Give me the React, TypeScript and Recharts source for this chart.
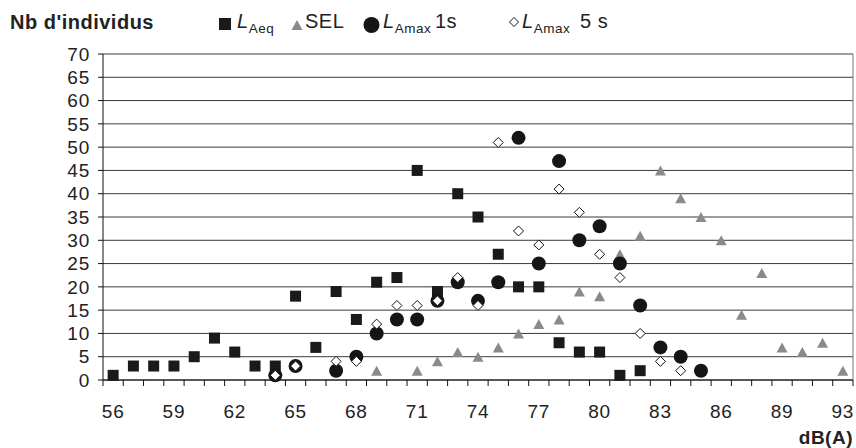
import { CartesianGrid, ComposedChart, Label, Line, XAxis, YAxis } from 'recharts';

const _ = null;

// dB(A) classes on the category axis (91 has no class in the source chart)
const dbLevels = [
  '56', '57', '58', '59', '60', '61', '62', '63', '64', '65', '66', '67', '68',
  '69', '70', '71', '72', '73', '74', '75', '76', '77', '78', '79', '80', '81',
  '82', '83', '84', '85', '86', '87', '88', '89', '90', '92', '93',
];

const laeq = [
  1, 3, 3, 3, 5, 9, 6, 3, 3, 18, 7, 19, 13,
  21, 22, 45, 19, 40, 35, 27, 20, 20, 8, 6, 6, 1,
  2, _, _, _, _, _, _, _, _, _, _,
];
const sel = [
  _, _, _, _, _, _, _, _, _, _, _, _, _,
  2, _, 2, 4, 6, 5, 7, 10, 12, 13, 19, 18, 27,
  31, 45, 39, 35, 30, 14, 23, 7, 6, 8, 2,
];
const lamax1s = [
  _, _, _, _, _, _, _, _, 1, 3, _, 2, 5,
  10, 13, 13, 17, 21, 17, 21, 52, 25, 47, 30, 33, 25,
  16, 7, 5, 2, _, _, _, _, _, _, _,
];
const lamax5s = [
  _, _, _, _, _, _, _, _, 1, 3, _, 4, 4,
  12, 16, 16, 17, 22, 16, 51, 32, 29, 41, 36, 27, 22,
  10, 4, 2, _, _, _, _, _, _, _, _,
];

const yTicks = [0, 5, 10, 15, 20, 25, 30, 35, 40, 45, 50, 55, 60, 65, 70];

const rows = dbLevels.map((db, i) => ({
  db,
  laeq: laeq[i],
  sel: sel[i],
  lamax1: lamax1s[i],
  lamax5: lamax5s[i],
}));

const W = 856;
const H = 448;
const LEFT = 103;
const RIGHT = 3;
const FONT = '"Liberation Sans", Arial, Helvetica, sans-serif';
const halfBand = (W - LEFT - RIGHT) / dbLevels.length / 2;

type DotProps = { cx?: number; cy?: number; value?: number | null; index?: number };

const empty = (p: DotProps) => p.cx == null || p.cy == null || p.value == null;

const squareDot = (p: DotProps) =>
  empty(p) ? <g key={`sq${p.index}`} /> : (
    <rect key={`sq${p.index}`} x={p.cx! - 5.5} y={p.cy! - 5.5} width={11} height={11} fill="#1a1a1a" />
  );

const triangleDot = (p: DotProps) =>
  empty(p) ? <g key={`tr${p.index}`} /> : (
    <polygon
      key={`tr${p.index}`}
      points={`${p.cx! - 5.5},${p.cy! + 5} ${p.cx! + 5.5},${p.cy! + 5} ${p.cx!},${p.cy! - 5}`}
      fill="#8a8a8a"
    />
  );

const circleDot = (p: DotProps) =>
  empty(p) ? <g key={`ci${p.index}`} /> : (
    <circle key={`ci${p.index}`} cx={p.cx} cy={p.cy} r={7} fill="#151515" />
  );

const diamondDot = (p: DotProps) =>
  empty(p) ? <g key={`di${p.index}`} /> : (
    <polygon
      key={`di${p.index}`}
      points={`${p.cx!},${p.cy! - 5} ${p.cx! + 5},${p.cy!} ${p.cx!},${p.cy! + 5} ${p.cx! - 5},${p.cy!}`}
      fill="#fff"
      stroke="#111"
      strokeWidth={1}
    />
  );

function XTick(props: any) {
  const { x, y, payload } = props;
  const i = payload.index;
  return (
    <g>
      <line x1={x - halfBand} x2={x - halfBand} y1={y} y2={y + 6} stroke="#111" />
      {i === dbLevels.length - 1 ? (
        <line x1={x + halfBand} x2={x + halfBand} y1={y} y2={y + 6} stroke="#111" />
      ) : null}
      {i % 3 === 0 ? (
        <text x={x} y={y + 38} textAnchor="middle" fontSize={19} fill="#222" fontFamily={FONT} letterSpacing={0.8}>
          {payload.value}
        </text>
      ) : null}
    </g>
  );
}

function AxisTitle(props: any) {
  const vb = props.viewBox;
  return (
    <text x={vb.x + vb.width} y={vb.y + vb.height - 4} textAnchor="end" fontSize={19} fontWeight="bold" fill="#222" fontFamily={FONT} letterSpacing={0.5}>
      dB(A)
    </text>
  );
}

function LegendBar() {
  const txt = { fontSize: 20, fill: '#222', fontFamily: FONT, letterSpacing: 0.5 };
  return (
    <svg width={W} height={40} style={{ position: 'absolute', left: 0, top: 0 }}>
      <text x={10} y={29} {...txt} fontWeight="bold">Nb d'individus</text>

      <rect x={219} y={18} width={12} height={12} fill="#1a1a1a" />
      <text x={237} y={28} {...txt}>
        <tspan fontStyle="italic">L</tspan>
        <tspan fontSize={13.5} dy={5}>Aeq</tspan>
      </text>

      <polygon points="291.5,30 302.5,30 297,20" fill="#8a8a8a" />
      <text x={305} y={28} {...txt}>SEL</text>

      <circle cx={371.5} cy={25} r={8} fill="#151515" />
      <text x={383} y={28} {...txt}>
        <tspan fontStyle="italic">L</tspan>
        <tspan fontSize={13.5} dy={5}>Amax</tspan>
        <tspan x={435} dy={-5}>1s</tspan>
      </text>

      <polygon points="514,17.5 518.5,22 514,26.5 509.5,22" fill="#fff" stroke="#111" strokeWidth={1} />
      <text x={522} y={28} {...txt}>
        <tspan fontStyle="italic">L</tspan>
        <tspan fontSize={13.5} dy={5}>Amax</tspan>
        <tspan x={580} dy={-5}>5 s</tspan>
      </text>
    </svg>
  );
}

export default function App() {
  return (
    <div style={{ position: 'absolute', left: 0, top: 0, width: W, height: H, background: '#fff' }}>
      <ComposedChart width={W} height={H} data={rows} margin={{ top: 54, right: 0, bottom: 0, left: 0 }}>
        <CartesianGrid vertical={false} stroke="#3a3a3a" />
        <XAxis
          dataKey="db"
          type="category"
          scale="band"
          interval={0}
          height={68}
          tickSize={0}
          tickMargin={0}
          tickLine={false}
          tick={<XTick />}
          axisLine={{ stroke: '#111' }}
        >
          <Label content={<AxisTitle />} />
        </XAxis>
        <YAxis
          domain={[0, 70]}
          ticks={yTicks}
          interval={0}
          width={LEFT}
          tickSize={5}
          tickMargin={8}
          axisLine={{ stroke: '#111' }}
          tickLine={{ stroke: '#111' }}
          tick={{ fontSize: 19, fill: '#222', fontFamily: FONT, letterSpacing: 0.8 }}
        />
        <YAxis
          yAxisId="frame"
          orientation="right"
          domain={[0, 70]}
          width={RIGHT}
          tick={false}
          tickLine={false}
          axisLine={{ stroke: '#777' }}
        />
        <Line dataKey="laeq" stroke="none" dot={squareDot} activeDot={false} isAnimationActive={false} />
        <Line dataKey="sel" stroke="none" dot={triangleDot} activeDot={false} isAnimationActive={false} />
        <Line dataKey="lamax1" stroke="none" dot={circleDot} activeDot={false} isAnimationActive={false} />
        <Line dataKey="lamax5" stroke="none" dot={diamondDot} activeDot={false} isAnimationActive={false} />
      </ComposedChart>
      <LegendBar />
    </div>
  );
}
